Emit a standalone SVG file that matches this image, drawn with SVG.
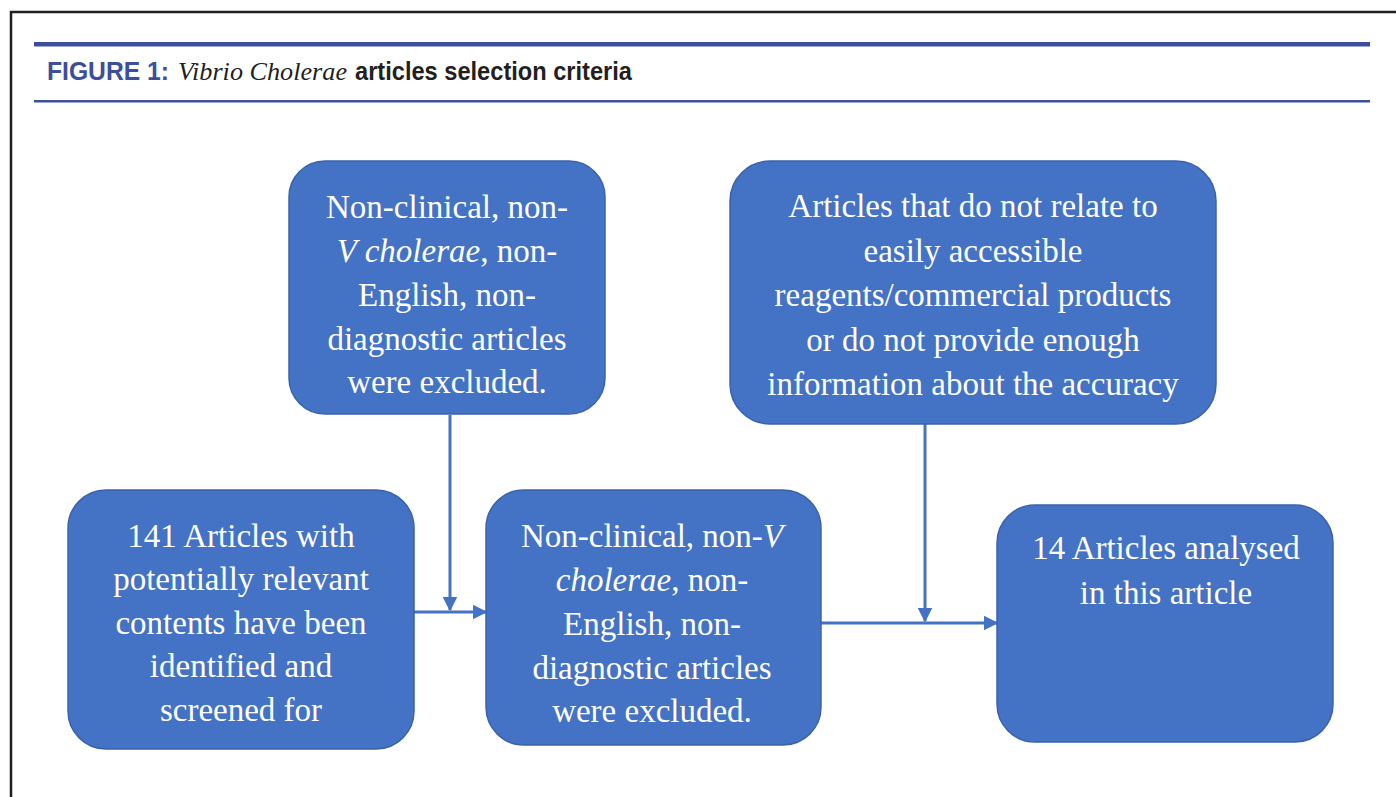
<svg xmlns="http://www.w3.org/2000/svg" width="1396" height="797" viewBox="0 0 1396 797">
<defs>
<style>
.box{fill:#4472C4;stroke:#3A63AC;stroke-width:1.5}
.t{font-family:"Liberation Serif","Times New Roman",serif;font-size:33px;fill:#ffffff;text-anchor:middle}
.conn{stroke:#4472C4;stroke-width:3;fill:none}
</style>
<marker id="ah" viewBox="0 0 10 10" refX="9" refY="5" markerWidth="5" markerHeight="5" orient="auto" markerUnits="strokeWidth">
<path d="M0,0 L10,5 L0,10 z" fill="#4472C4"/>
</marker>
</defs>
<rect width="1396" height="797" fill="#ffffff"/>
<g id="frame">
<path d="M11,797 V12 H1396" fill="none" stroke="#231f20" stroke-width="2.5"/>
<rect x="34" y="42" width="1336" height="4.5" fill="#3d4e9a"/>
<rect x="34" y="100" width="1336" height="2.5" fill="#3d4e9a"/>
<text y="80" font-size="26"><tspan x="47" font-family="'Liberation Sans Narrow','Liberation Sans',sans-serif" font-weight="bold" fill="#3d4e9a" textLength="122" lengthAdjust="spacingAndGlyphs">FIGURE 1:</tspan><tspan x="178" font-family="'Liberation Serif',serif" font-style="italic" fill="#231f20" textLength="169" lengthAdjust="spacingAndGlyphs">Vibrio Cholerae</tspan><tspan x="355" font-family="'Liberation Sans',sans-serif" font-weight="bold" fill="#231f20" textLength="277" lengthAdjust="spacingAndGlyphs">articles selection criteria</tspan></text>
</g>
<g id="connectors">
<line class="conn" x1="450" y1="415" x2="450" y2="610" marker-end="url(#ah)"/>
<line class="conn" x1="414" y1="612" x2="486" y2="612" marker-end="url(#ah)"/>
<line class="conn" x1="925" y1="424" x2="925" y2="621" marker-end="url(#ah)"/>
<line class="conn" x1="821" y1="623" x2="997" y2="623" marker-end="url(#ah)"/>
</g>
<g id="node-exclusion1">
<rect class="box" x="289" y="161" width="316" height="253" rx="36"/>
<text class="t"><tspan x="447" y="218">Non-clinical, non-</tspan><tspan x="447" y="262"><tspan font-style="italic">V cholerae</tspan>, non-</tspan><tspan x="447" y="306">English, non-</tspan><tspan x="447" y="350">diagnostic articles</tspan><tspan x="447" y="393">were excluded.</tspan></text>
</g>
<g id="node-exclusion2">
<rect class="box" x="730" y="161" width="486" height="263" rx="40"/>
<text class="t"><tspan x="973" y="217">Articles that do not relate to</tspan><tspan x="973" y="262">easily accessible</tspan><tspan x="973" y="306">reagents/commercial products</tspan><tspan x="973" y="351">or do not provide enough</tspan><tspan x="973" y="395">information about the accuracy</tspan></text>
</g>
<g id="node-identified">
<rect class="box" x="68" y="490" width="346" height="259" rx="38"/>
<text class="t"><tspan x="241" y="547">141 Articles with</tspan><tspan x="241" y="590">potentially relevant</tspan><tspan x="241" y="634">contents have been</tspan><tspan x="241" y="677">identified and</tspan><tspan x="241" y="721">screened for</tspan></text>
</g>
<g id="node-screened">
<rect class="box" x="486" y="490" width="335" height="255" rx="38"/>
<text class="t"><tspan x="652" y="547">Non-clinical, non-<tspan font-style="italic">V</tspan></tspan><tspan x="652" y="591"><tspan font-style="italic">cholerae</tspan>, non-</tspan><tspan x="652" y="635">English, non-</tspan><tspan x="652" y="679">diagnostic articles</tspan><tspan x="652" y="722">were excluded.</tspan></text>
</g>
<g id="node-analysed">
<rect class="box" x="997" y="505" width="336" height="237" rx="38"/>
<text class="t"><tspan x="1166" y="559">14 Articles analysed</tspan><tspan x="1166" y="604">in this article</tspan></text>
</g>
</svg>
